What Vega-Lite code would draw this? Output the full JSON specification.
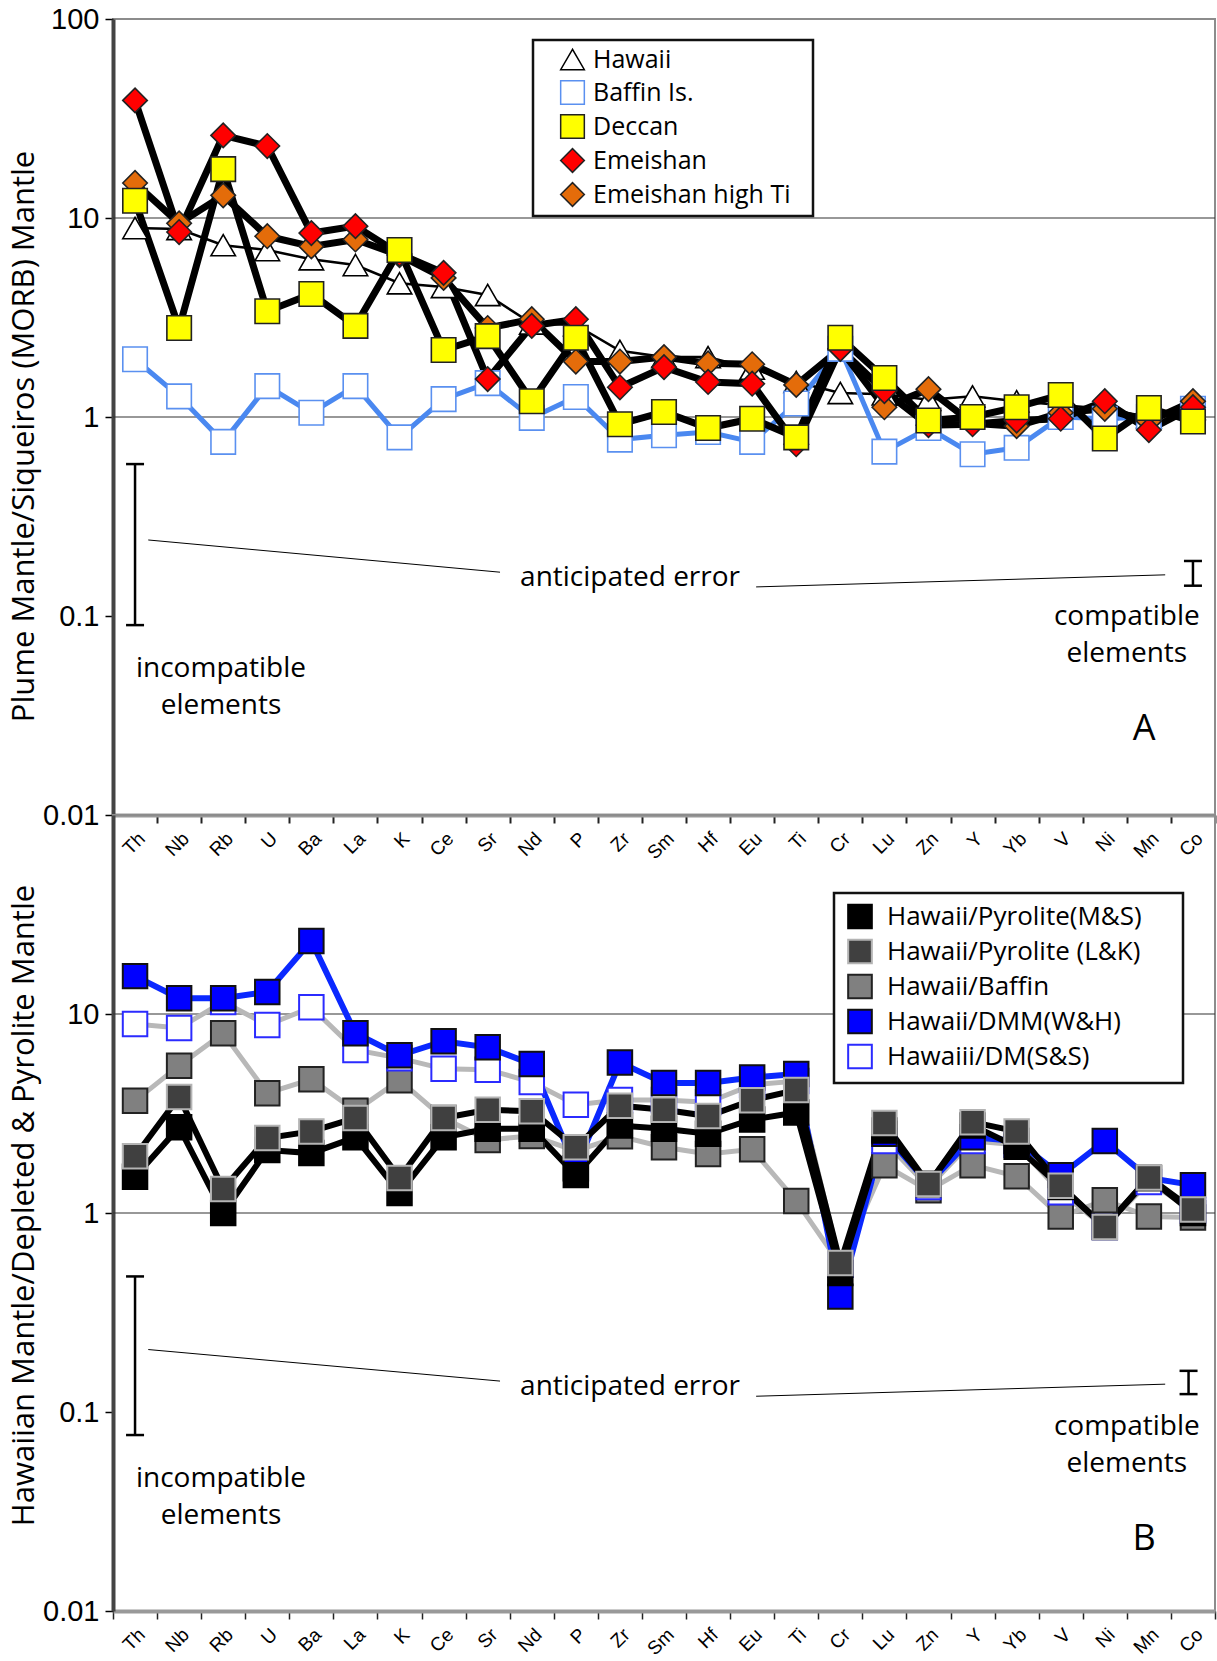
{
  "$schema": "https://vega.github.io/schema/vega-lite/v6.json",
  "background": "white",
  "padding": {"left": 7, "top": 4, "right": 0, "bottom": 0},
  "spacing": 0,
  "bounds": "flush",
  "resolve": {"scale": {"fill": "independent", "stroke": "independent", "shape": "independent"}, "legend": {"fill": "independent", "stroke": "independent", "shape": "independent"}},
  "config": {
    "view": {"stroke": "#8c8c8c", "strokeWidth": 2},
    "font": "Open Sans",
    "axis": {"grid": false, "labelColor": "black", "tickColor": "black"},
    "legend": {"strokeColor": "#111", "strokeWidth": 2.5, "fillColor": "white", "labelLimit": 500}
  },
  "datasets": {
    "A": [
      {"e":"Th","s":"Hawaii","v":8.9},{"e":"Nb","s":"Hawaii","v":8.8},{"e":"Rb","s":"Hawaii","v":7.3},{"e":"U","s":"Hawaii","v":6.9},{"e":"Ba","s":"Hawaii","v":6.2},{"e":"La","s":"Hawaii","v":5.8},{"e":"K","s":"Hawaii","v":4.7},{"e":"Ce","s":"Hawaii","v":4.5},{"e":"Sr","s":"Hawaii","v":4.1},{"e":"Nd","s":"Hawaii","v":2.95},{"e":"P","s":"Hawaii","v":2.9},{"e":"Zr","s":"Hawaii","v":2.15},{"e":"Sm","s":"Hawaii","v":2.0},{"e":"Hf","s":"Hawaii","v":2.0},{"e":"Eu","s":"Hawaii","v":1.75},{"e":"Ti","s":"Hawaii","v":1.5},{"e":"Cr","s":"Hawaii","v":1.32},{"e":"Lu","s":"Hawaii","v":1.3},{"e":"Zn","s":"Hawaii","v":1.22},{"e":"Y","s":"Hawaii","v":1.27},{"e":"Yb","s":"Hawaii","v":1.2},{"e":"V","s":"Hawaii","v":1.15},{"e":"Ni","s":"Hawaii","v":1.1},{"e":"Mn","s":"Hawaii","v":1.0},{"e":"Co","s":"Hawaii","v":1.1},
      {"e":"Th","s":"Baffin Is.","v":1.95},{"e":"Nb","s":"Baffin Is.","v":1.27},{"e":"Rb","s":"Baffin Is.","v":0.75},{"e":"U","s":"Baffin Is.","v":1.43},{"e":"Ba","s":"Baffin Is.","v":1.05},{"e":"La","s":"Baffin Is.","v":1.43},{"e":"K","s":"Baffin Is.","v":0.79},{"e":"Ce","s":"Baffin Is.","v":1.23},{"e":"Sr","s":"Baffin Is.","v":1.48},{"e":"Nd","s":"Baffin Is.","v":0.99},{"e":"P","s":"Baffin Is.","v":1.26},{"e":"Zr","s":"Baffin Is.","v":0.77},{"e":"Sm","s":"Baffin Is.","v":0.81},{"e":"Hf","s":"Baffin Is.","v":0.84},{"e":"Eu","s":"Baffin Is.","v":0.75},{"e":"Ti","s":"Baffin Is.","v":1.17},{"e":"Cr","s":"Baffin Is.","v":2.2},{"e":"Lu","s":"Baffin Is.","v":0.67},{"e":"Zn","s":"Baffin Is.","v":0.88},{"e":"Y","s":"Baffin Is.","v":0.65},{"e":"Yb","s":"Baffin Is.","v":0.7},{"e":"V","s":"Baffin Is.","v":1.0},{"e":"Ni","s":"Baffin Is.","v":0.98},{"e":"Mn","s":"Baffin Is.","v":1.0},{"e":"Co","s":"Baffin Is.","v":1.1},
      {"e":"Th","s":"Emeishan high Ti","v":15},{"e":"Nb","s":"Emeishan high Ti","v":9.4},{"e":"Rb","s":"Emeishan high Ti","v":13},{"e":"U","s":"Emeishan high Ti","v":8.1},{"e":"Ba","s":"Emeishan high Ti","v":7.2},{"e":"La","s":"Emeishan high Ti","v":7.8},{"e":"K","s":"Emeishan high Ti","v":6.5},{"e":"Ce","s":"Emeishan high Ti","v":5.0},{"e":"Sr","s":"Emeishan high Ti","v":2.8},{"e":"Nd","s":"Emeishan high Ti","v":3.1},{"e":"P","s":"Emeishan high Ti","v":1.9},{"e":"Zr","s":"Emeishan high Ti","v":1.9},{"e":"Sm","s":"Emeishan high Ti","v":2.0},{"e":"Hf","s":"Emeishan high Ti","v":1.86},{"e":"Eu","s":"Emeishan high Ti","v":1.84},{"e":"Ti","s":"Emeishan high Ti","v":1.45},{"e":"Cr","s":"Emeishan high Ti","v":2.2},{"e":"Lu","s":"Emeishan high Ti","v":1.12},{"e":"Zn","s":"Emeishan high Ti","v":1.38},{"e":"Y","s":"Emeishan high Ti","v":0.93},{"e":"Yb","s":"Emeishan high Ti","v":0.9},{"e":"V","s":"Emeishan high Ti","v":1.05},{"e":"Ni","s":"Emeishan high Ti","v":1.1},{"e":"Mn","s":"Emeishan high Ti","v":0.95},{"e":"Co","s":"Emeishan high Ti","v":1.2},
      {"e":"Th","s":"Emeishan","v":39},{"e":"Nb","s":"Emeishan","v":8.5},{"e":"Rb","s":"Emeishan","v":26},{"e":"U","s":"Emeishan","v":23},{"e":"Ba","s":"Emeishan","v":8.4},{"e":"La","s":"Emeishan","v":9.1},{"e":"K","s":"Emeishan","v":6.6},{"e":"Ce","s":"Emeishan","v":5.3},{"e":"Sr","s":"Emeishan","v":1.55},{"e":"Nd","s":"Emeishan","v":2.87},{"e":"P","s":"Emeishan","v":3.1},{"e":"Zr","s":"Emeishan","v":1.41},{"e":"Sm","s":"Emeishan","v":1.78},{"e":"Hf","s":"Emeishan","v":1.5},{"e":"Eu","s":"Emeishan","v":1.47},{"e":"Ti","s":"Emeishan","v":0.73},{"e":"Cr","s":"Emeishan","v":2.2},{"e":"Lu","s":"Emeishan","v":1.35},{"e":"Zn","s":"Emeishan","v":0.91},{"e":"Y","s":"Emeishan","v":0.92},{"e":"Yb","s":"Emeishan","v":0.96},{"e":"V","s":"Emeishan","v":0.98},{"e":"Ni","s":"Emeishan","v":1.2},{"e":"Mn","s":"Emeishan","v":0.86},{"e":"Co","s":"Emeishan","v":1.12},
      {"e":"Th","s":"Deccan","v":12.2},{"e":"Nb","s":"Deccan","v":2.8},{"e":"Rb","s":"Deccan","v":17.6},{"e":"U","s":"Deccan","v":3.4},{"e":"Ba","s":"Deccan","v":4.15},{"e":"La","s":"Deccan","v":2.87},{"e":"K","s":"Deccan","v":6.9},{"e":"Ce","s":"Deccan","v":2.17},{"e":"Sr","s":"Deccan","v":2.55},{"e":"Nd","s":"Deccan","v":1.2},{"e":"P","s":"Deccan","v":2.5},{"e":"Zr","s":"Deccan","v":0.92},{"e":"Sm","s":"Deccan","v":1.06},{"e":"Hf","s":"Deccan","v":0.88},{"e":"Eu","s":"Deccan","v":0.98},{"e":"Ti","s":"Deccan","v":0.79},{"e":"Cr","s":"Deccan","v":2.5},{"e":"Lu","s":"Deccan","v":1.57},{"e":"Zn","s":"Deccan","v":0.96},{"e":"Y","s":"Deccan","v":1.0},{"e":"Yb","s":"Deccan","v":1.12},{"e":"V","s":"Deccan","v":1.29},{"e":"Ni","s":"Deccan","v":0.78},{"e":"Mn","s":"Deccan","v":1.11},{"e":"Co","s":"Deccan","v":0.95}
    ],
    "B": [
      {"e":"Th","s":"Hawaii/Baffin","v":3.66},{"e":"Nb","s":"Hawaii/Baffin","v":5.5},{"e":"Rb","s":"Hawaii/Baffin","v":8.0},{"e":"U","s":"Hawaii/Baffin","v":4.0},{"e":"Ba","s":"Hawaii/Baffin","v":4.7},{"e":"La","s":"Hawaii/Baffin","v":3.26},{"e":"K","s":"Hawaii/Baffin","v":4.65},{"e":"Ce","s":"Hawaii/Baffin","v":3.0},{"e":"Sr","s":"Hawaii/Baffin","v":2.33},{"e":"Nd","s":"Hawaii/Baffin","v":2.44},{"e":"P","s":"Hawaii/Baffin","v":2.05},{"e":"Zr","s":"Hawaii/Baffin","v":2.43},{"e":"Sm","s":"Hawaii/Baffin","v":2.14},{"e":"Hf","s":"Hawaii/Baffin","v":1.98},{"e":"Eu","s":"Hawaii/Baffin","v":2.09},{"e":"Ti","s":"Hawaii/Baffin","v":1.15},{"e":"Cr","s":"Hawaii/Baffin","v":0.55},{"e":"Lu","s":"Hawaii/Baffin","v":1.74},{"e":"Zn","s":"Hawaii/Baffin","v":1.3},{"e":"Y","s":"Hawaii/Baffin","v":1.74},{"e":"Yb","s":"Hawaii/Baffin","v":1.53},{"e":"V","s":"Hawaii/Baffin","v":0.96},{"e":"Ni","s":"Hawaii/Baffin","v":1.16},{"e":"Mn","s":"Hawaii/Baffin","v":0.96},{"e":"Co","s":"Hawaii/Baffin","v":0.95},
      {"e":"Th","s":"Hawaiii/DM(S&S)","v":8.9},{"e":"Nb","s":"Hawaiii/DM(S&S)","v":8.5},{"e":"Rb","s":"Hawaiii/DM(S&S)","v":11.5},{"e":"U","s":"Hawaiii/DM(S&S)","v":8.8},{"e":"Ba","s":"Hawaiii/DM(S&S)","v":10.8},{"e":"La","s":"Hawaiii/DM(S&S)","v":6.6},{"e":"K","s":"Hawaiii/DM(S&S)","v":6.0},{"e":"Ce","s":"Hawaiii/DM(S&S)","v":5.3},{"e":"Sr","s":"Hawaiii/DM(S&S)","v":5.25},{"e":"Nd","s":"Hawaiii/DM(S&S)","v":4.55},{"e":"P","s":"Hawaiii/DM(S&S)","v":3.5},{"e":"Zr","s":"Hawaiii/DM(S&S)","v":3.7},{"e":"Sm","s":"Hawaiii/DM(S&S)","v":3.7},{"e":"Hf","s":"Hawaiii/DM(S&S)","v":3.6},{"e":"Eu","s":"Hawaiii/DM(S&S)","v":4.4},{"e":"Ti","s":"Hawaiii/DM(S&S)","v":4.6},{"e":"Cr","s":"Hawaiii/DM(S&S)","v":0.55},{"e":"Lu","s":"Hawaiii/DM(S&S)","v":2.3},{"e":"Zn","s":"Hawaiii/DM(S&S)","v":1.35},{"e":"Y","s":"Hawaiii/DM(S&S)","v":2.3},{"e":"Yb","s":"Hawaiii/DM(S&S)","v":2.2},{"e":"V","s":"Hawaiii/DM(S&S)","v":1.27},{"e":"Ni","s":"Hawaiii/DM(S&S)","v":0.85},{"e":"Mn","s":"Hawaiii/DM(S&S)","v":1.43},{"e":"Co","s":"Hawaiii/DM(S&S)","v":1.03},
      {"e":"Th","s":"Hawaii/DMM(W&H)","v":15.5},{"e":"Nb","s":"Hawaii/DMM(W&H)","v":12},{"e":"Rb","s":"Hawaii/DMM(W&H)","v":12},{"e":"U","s":"Hawaii/DMM(W&H)","v":12.9},{"e":"Ba","s":"Hawaii/DMM(W&H)","v":23.3},{"e":"La","s":"Hawaii/DMM(W&H)","v":8.0},{"e":"K","s":"Hawaii/DMM(W&H)","v":6.2},{"e":"Ce","s":"Hawaii/DMM(W&H)","v":7.3},{"e":"Sr","s":"Hawaii/DMM(W&H)","v":6.8},{"e":"Nd","s":"Hawaii/DMM(W&H)","v":5.6},{"e":"P","s":"Hawaii/DMM(W&H)","v":1.68},{"e":"Zr","s":"Hawaii/DMM(W&H)","v":5.7},{"e":"Sm","s":"Hawaii/DMM(W&H)","v":4.5},{"e":"Hf","s":"Hawaii/DMM(W&H)","v":4.5},{"e":"Eu","s":"Hawaii/DMM(W&H)","v":4.8},{"e":"Ti","s":"Hawaii/DMM(W&H)","v":5.0},{"e":"Cr","s":"Hawaii/DMM(W&H)","v":0.38},{"e":"Lu","s":"Hawaii/DMM(W&H)","v":2.5},{"e":"Zn","s":"Hawaii/DMM(W&H)","v":1.4},{"e":"Y","s":"Hawaii/DMM(W&H)","v":2.4},{"e":"Yb","s":"Hawaii/DMM(W&H)","v":2.3},{"e":"V","s":"Hawaii/DMM(W&H)","v":1.55},{"e":"Ni","s":"Hawaii/DMM(W&H)","v":2.3},{"e":"Mn","s":"Hawaii/DMM(W&H)","v":1.5},{"e":"Co","s":"Hawaii/DMM(W&H)","v":1.38},
      {"e":"Th","s":"Hawaii/Pyrolite(M&S)","v":1.52},{"e":"Nb","s":"Hawaii/Pyrolite(M&S)","v":2.7},{"e":"Rb","s":"Hawaii/Pyrolite(M&S)","v":1.0},{"e":"U","s":"Hawaii/Pyrolite(M&S)","v":2.07},{"e":"Ba","s":"Hawaii/Pyrolite(M&S)","v":2.0},{"e":"La","s":"Hawaii/Pyrolite(M&S)","v":2.4},{"e":"K","s":"Hawaii/Pyrolite(M&S)","v":1.26},{"e":"Ce","s":"Hawaii/Pyrolite(M&S)","v":2.4},{"e":"Sr","s":"Hawaii/Pyrolite(M&S)","v":2.65},{"e":"Nd","s":"Hawaii/Pyrolite(M&S)","v":2.65},{"e":"P","s":"Hawaii/Pyrolite(M&S)","v":1.55},{"e":"Zr","s":"Hawaii/Pyrolite(M&S)","v":2.75},{"e":"Sm","s":"Hawaii/Pyrolite(M&S)","v":2.65},{"e":"Hf","s":"Hawaii/Pyrolite(M&S)","v":2.5},{"e":"Eu","s":"Hawaii/Pyrolite(M&S)","v":2.95},{"e":"Ti","s":"Hawaii/Pyrolite(M&S)","v":3.2},{"e":"Cr","s":"Hawaii/Pyrolite(M&S)","v":0.5},{"e":"Lu","s":"Hawaii/Pyrolite(M&S)","v":2.6},{"e":"Zn","s":"Hawaii/Pyrolite(M&S)","v":1.4},{"e":"Y","s":"Hawaii/Pyrolite(M&S)","v":2.75},{"e":"Yb","s":"Hawaii/Pyrolite(M&S)","v":2.15},{"e":"V","s":"Hawaii/Pyrolite(M&S)","v":1.35},{"e":"Ni","s":"Hawaii/Pyrolite(M&S)","v":0.85},{"e":"Mn","s":"Hawaii/Pyrolite(M&S)","v":1.5},{"e":"Co","s":"Hawaii/Pyrolite(M&S)","v":1.0},
      {"e":"Th","s":"Hawaii/Pyrolite (L&K)","v":1.93},{"e":"Nb","s":"Hawaii/Pyrolite (L&K)","v":3.83},{"e":"Rb","s":"Hawaii/Pyrolite (L&K)","v":1.32},{"e":"U","s":"Hawaii/Pyrolite (L&K)","v":2.38},{"e":"Ba","s":"Hawaii/Pyrolite (L&K)","v":2.57},{"e":"La","s":"Hawaii/Pyrolite (L&K)","v":3.0},{"e":"K","s":"Hawaii/Pyrolite (L&K)","v":1.5},{"e":"Ce","s":"Hawaii/Pyrolite (L&K)","v":3.0},{"e":"Sr","s":"Hawaii/Pyrolite (L&K)","v":3.3},{"e":"Nd","s":"Hawaii/Pyrolite (L&K)","v":3.25},{"e":"P","s":"Hawaii/Pyrolite (L&K)","v":2.14},{"e":"Zr","s":"Hawaii/Pyrolite (L&K)","v":3.46},{"e":"Sm","s":"Hawaii/Pyrolite (L&K)","v":3.3},{"e":"Hf","s":"Hawaii/Pyrolite (L&K)","v":3.07},{"e":"Eu","s":"Hawaii/Pyrolite (L&K)","v":3.69},{"e":"Ti","s":"Hawaii/Pyrolite (L&K)","v":4.15},{"e":"Cr","s":"Hawaii/Pyrolite (L&K)","v":0.56},{"e":"Lu","s":"Hawaii/Pyrolite (L&K)","v":2.83},{"e":"Zn","s":"Hawaii/Pyrolite (L&K)","v":1.4},{"e":"Y","s":"Hawaii/Pyrolite (L&K)","v":2.86},{"e":"Yb","s":"Hawaii/Pyrolite (L&K)","v":2.57},{"e":"V","s":"Hawaii/Pyrolite (L&K)","v":1.37},{"e":"Ni","s":"Hawaii/Pyrolite (L&K)","v":0.85},{"e":"Mn","s":"Hawaii/Pyrolite (L&K)","v":1.51},{"e":"Co","s":"Hawaii/Pyrolite (L&K)","v":1.04}
    ],
    "grid": [{"g": 1}, {"g": 10}],
    "errA": [{"x": 0, "lo": 0.09, "hi": 0.58}, {"x": 24, "lo": 0.142, "hi": 0.189}],
    "linkA": [{"x": 0.3, "y": 0.241, "x2": 8.28, "y2": 0.166}, {"x": 14.09, "y": 0.14, "x2": 23.37, "y2": 0.161}],
    "textA": [{"x": 11.23, "y": 0.155, "t": "anticipated error"}, {"x": 1.95, "y": 0.0542, "t": "incompatible\nelements"}, {"x": 22.5, "y": 0.0994, "t": "compatible\nelements"}],
    "letterA": [{"x": 22.89, "y": 0.027, "t": "A"}],
    "errB": [{"x": 0, "lo": 0.0766, "hi": 0.48}, {"x": 23.9, "lo": 0.123, "hi": 0.161}],
    "linkB": [{"x": 0.3, "y": 0.206, "x2": 8.28, "y2": 0.143}, {"x": 14.09, "y": 0.12, "x2": 23.37, "y2": 0.138}],
    "textB": [{"x": 11.23, "y": 0.133, "t": "anticipated error"}, {"x": 1.95, "y": 0.0462, "t": "incompatible\nelements"}, {"x": 22.5, "y": 0.0843, "t": "compatible\nelements"}],
    "letterB": [{"x": 22.89, "y": 0.023, "t": "B"}]
  },
  "vconcat": [
    {
      "width": 1102,
      "height": 796,
      "resolve": {"scale": {"x": "independent"}},
      "layer": [
        {
          "data": {"name": "grid"},
          "mark": {"type": "rule", "color": "#333", "strokeWidth": 1.2},
          "encoding": {
            "y": {"field": "g", "type": "quantitative", "scale": {"type": "log", "domain": [0.01, 100], "nice": false},
              "axis": {"values": [0.01, 0.1, 1, 10, 100], "format": "~g", "title": "Plume Mantle/Siqueiros (MORB) Mantle", "titleFontSize": 31, "titleFont": "Open Sans", "titleFontWeight": "normal", "titleColor": "black", "titleX": -80, "titleY": 417, "titleBaseline": "alphabetic", "labelFont": "Liberation Sans", "labelFontSize": 29, "labelPadding": 6, "tickSize": 8, "tickWidth": 1.5, "domainColor": "#444", "domainWidth": 4}}
          }
        },
        {
          "data": {"name": "A"},
          "transform": [{"filter": "datum.s === 'Hawaii'"}],
          "mark": {"type": "line", "color": "black", "strokeWidth": 2.5},
          "encoding": {
            "x": {"field": "e", "type": "nominal", "scale": {"type": "band", "domain": ["Th","Nb","Rb","U","Ba","La","K","Ce","Sr","Nd","P","Zr","Sm","Hf","Eu","Ti","Cr","Lu","Zn","Y","Yb","V","Ni","Mn","Co"], "paddingInner": 0, "paddingOuter": 0}, "axis": null},
            "y": {"field": "v", "type": "quantitative", "scale": {"type": "log", "domain": [0.01, 100], "nice": false}}
          }
        },
        {
          "data": {"name": "A"},
          "transform": [{"filter": "datum.s === 'Baffin Is.'"}],
          "mark": {"type": "line", "color": "#4a88f0", "strokeWidth": 5},
          "encoding": {
            "x": {"field": "e", "type": "nominal", "scale": {"type": "band", "domain": ["Th","Nb","Rb","U","Ba","La","K","Ce","Sr","Nd","P","Zr","Sm","Hf","Eu","Ti","Cr","Lu","Zn","Y","Yb","V","Ni","Mn","Co"], "paddingInner": 0, "paddingOuter": 0}, "axis": null},
            "y": {"field": "v", "type": "quantitative", "scale": {"type": "log", "domain": [0.01, 100], "nice": false}}
          }
        },
        {
          "data": {"name": "A"},
          "transform": [{"filter": "datum.s !== 'Hawaii' && datum.s !== 'Baffin Is.'"}],
          "mark": {"type": "line", "color": "black", "strokeWidth": 7},
          "encoding": {
            "x": {"field": "e", "type": "nominal", "scale": {"type": "band", "domain": ["Th","Nb","Rb","U","Ba","La","K","Ce","Sr","Nd","P","Zr","Sm","Hf","Eu","Ti","Cr","Lu","Zn","Y","Yb","V","Ni","Mn","Co"], "paddingInner": 0, "paddingOuter": 0}, "axis": null},
            "y": {"field": "v", "type": "quantitative", "scale": {"type": "log", "domain": [0.01, 100], "nice": false}},
            "detail": {"field": "s", "type": "nominal"}
          }
        },
        {
          "data": {"name": "A"},
          "mark": {"type": "point", "filled": true, "size": 600, "strokeWidth": 1.6, "opacity": 1},
          "encoding": {
            "x": {"field": "e", "type": "nominal", "scale": {"type": "band", "domain": ["Th","Nb","Rb","U","Ba","La","K","Ce","Sr","Nd","P","Zr","Sm","Hf","Eu","Ti","Cr","Lu","Zn","Y","Yb","V","Ni","Mn","Co"], "paddingInner": 0, "paddingOuter": 0},
              "axis": {"title": null, "labelAngle": -45, "labelFont": "Liberation Sans", "labelFontSize": 19, "tickBand": "extent", "tickSize": 8, "tickColor": "#222", "tickWidth": 2, "domainColor": "#999", "domainWidth": 4, "labelPadding": 6}},
            "y": {"field": "v", "type": "quantitative", "scale": {"type": "log", "domain": [0.01, 100], "nice": false}},
            "shape": {"field": "s", "type": "nominal", "scale": {"domain": ["Hawaii", "Baffin Is.", "Deccan", "Emeishan", "Emeishan high Ti"], "range": ["triangle-up", "square", "square", "diamond", "diamond"]},
              "legend": {"orient": "none", "legendX": 420, "legendY": 21, "title": "M", "titleOrient": "right", "titleColor": "white", "titleFontSize": 16, "titlePadding": 0, "padding": 6.5, "symbolSize": 560, "labelFontSize": 25, "labelFont": "Open Sans", "labelColor": "black", "rowPadding": 4, "symbolOffset": 20, "labelOffset": 7.5, "symbolStrokeWidth": 1.5}},
            "fill": {"field": "s", "type": "nominal", "scale": {"domain": ["Hawaii", "Baffin Is.", "Deccan", "Emeishan", "Emeishan high Ti"], "range": ["white", "white", "#ffff00", "#ff0000", "#e46c0a"]},
              "legend": {"orient": "none", "legendX": 420, "legendY": 21, "title": "M", "titleOrient": "right", "titleColor": "white", "titleFontSize": 16, "titlePadding": 0, "padding": 6.5, "symbolSize": 560, "labelFontSize": 25, "labelFont": "Open Sans", "labelColor": "black", "rowPadding": 4, "symbolOffset": 20, "labelOffset": 7.5, "symbolStrokeWidth": 1.5}},
            "stroke": {"field": "s", "type": "nominal", "scale": {"domain": ["Hawaii", "Baffin Is.", "Deccan", "Emeishan", "Emeishan high Ti"], "range": ["black", "#5a90f0", "#222", "#222", "#222"]},
              "legend": {"orient": "none", "legendX": 420, "legendY": 21, "title": "M", "titleOrient": "right", "titleColor": "white", "titleFontSize": 16, "titlePadding": 0, "padding": 6.5, "symbolSize": 560, "labelFontSize": 25, "labelFont": "Open Sans", "labelColor": "black", "rowPadding": 4, "symbolOffset": 20, "labelOffset": 7.5, "symbolStrokeWidth": 1.5}}
          }
        },
        {
          "data": {"name": "linkA"},
          "mark": {"type": "rule", "color": "black", "strokeWidth": 1},
          "encoding": {
            "x": {"field": "x", "type": "quantitative", "scale": {"domain": [-0.5, 24.5], "nice": false, "zero": false}, "axis": null},
            "x2": {"field": "x2"},
            "y": {"field": "y", "type": "quantitative", "scale": {"type": "log", "domain": [0.01, 100], "nice": false}},
            "y2": {"field": "y2"}
          }
        },
        {
          "data": {"name": "errA"},
          "mark": {"type": "rule", "color": "black", "strokeWidth": 2.5},
          "encoding": {
            "x": {"field": "x", "type": "quantitative", "scale": {"domain": [-0.5, 24.5], "nice": false, "zero": false}, "axis": null},
            "y": {"field": "lo", "type": "quantitative", "scale": {"type": "log", "domain": [0.01, 100], "nice": false}},
            "y2": {"field": "hi"}
          }
        },
        {
          "data": {"name": "errA"},
          "mark": {"type": "point", "shape": "stroke", "size": 324, "color": "black", "strokeWidth": 2.5, "opacity": 1},
          "encoding": {
            "x": {"field": "x", "type": "quantitative", "scale": {"domain": [-0.5, 24.5], "nice": false, "zero": false}, "axis": null},
            "y": {"field": "lo", "type": "quantitative", "scale": {"type": "log", "domain": [0.01, 100], "nice": false}}
          }
        },
        {
          "data": {"name": "errA"},
          "mark": {"type": "point", "shape": "stroke", "size": 324, "color": "black", "strokeWidth": 2.5, "opacity": 1},
          "encoding": {
            "x": {"field": "x", "type": "quantitative", "scale": {"domain": [-0.5, 24.5], "nice": false, "zero": false}, "axis": null},
            "y": {"field": "hi", "type": "quantitative", "scale": {"type": "log", "domain": [0.01, 100], "nice": false}}
          }
        },
        {
          "data": {"name": "textA"},
          "mark": {"type": "text", "fontSize": 28, "font": "Open Sans", "color": "black", "align": "center", "baseline": "middle", "lineBreak": "\n", "lineHeight": 37},
          "encoding": {
            "x": {"field": "x", "type": "quantitative", "scale": {"domain": [-0.5, 24.5], "nice": false, "zero": false}, "axis": null},
            "y": {"field": "y", "type": "quantitative", "scale": {"type": "log", "domain": [0.01, 100], "nice": false}},
            "text": {"field": "t"}
          }
        },
        {
          "data": {"name": "letterA"},
          "mark": {"type": "text", "fontSize": 36, "font": "Open Sans", "color": "black", "align": "center", "baseline": "middle"},
          "encoding": {
            "x": {"field": "x", "type": "quantitative", "scale": {"domain": [-0.5, 24.5], "nice": false, "zero": false}, "axis": null},
            "y": {"field": "y", "type": "quantitative", "scale": {"type": "log", "domain": [0.01, 100], "nice": false}},
            "text": {"field": "t"}
          }
        }
      ]
    },
    {
      "width": 1102,
      "height": 796,
      "resolve": {"scale": {"x": "independent"}},
      "layer": [
        {
          "data": {"name": "grid"},
          "mark": {"type": "rule", "color": "#333", "strokeWidth": 1.2},
          "encoding": {
            "y": {"field": "g", "type": "quantitative", "scale": {"type": "log", "domain": [0.01, 100], "nice": false},
              "axis": {"values": [0.01, 0.1, 1, 10], "format": "~g", "title": "Hawaiian Mantle/Depleted & Pyrolite Mantle", "titleFontSize": 31, "titleFont": "Open Sans", "titleFontWeight": "normal", "titleColor": "black", "titleX": -80, "titleY": 390, "titleBaseline": "alphabetic", "labelFont": "Liberation Sans", "labelFontSize": 29, "labelPadding": 6, "tickSize": 8, "tickWidth": 1.5, "domainColor": "#444", "domainWidth": 4}}
          }
        },
        {
          "data": {"name": "B"},
          "transform": [{"filter": "datum.s === 'Hawaii/Baffin' || datum.s === 'Hawaiii/DM(S&S)'"}],
          "mark": {"type": "line", "color": "#b8b8b8", "strokeWidth": 5},
          "encoding": {
            "x": {"field": "e", "type": "nominal", "scale": {"type": "band", "domain": ["Th","Nb","Rb","U","Ba","La","K","Ce","Sr","Nd","P","Zr","Sm","Hf","Eu","Ti","Cr","Lu","Zn","Y","Yb","V","Ni","Mn","Co"], "paddingInner": 0, "paddingOuter": 0}, "axis": null},
            "y": {"field": "v", "type": "quantitative", "scale": {"type": "log", "domain": [0.01, 100], "nice": false}},
            "detail": {"field": "s", "type": "nominal"}
          }
        },
        {
          "data": {"name": "B"},
          "transform": [{"filter": "datum.s === 'Hawaii/DMM(W&H)'"}],
          "mark": {"type": "line", "color": "#0a28ff", "strokeWidth": 6},
          "encoding": {
            "x": {"field": "e", "type": "nominal", "scale": {"type": "band", "domain": ["Th","Nb","Rb","U","Ba","La","K","Ce","Sr","Nd","P","Zr","Sm","Hf","Eu","Ti","Cr","Lu","Zn","Y","Yb","V","Ni","Mn","Co"], "paddingInner": 0, "paddingOuter": 0}, "axis": null},
            "y": {"field": "v", "type": "quantitative", "scale": {"type": "log", "domain": [0.01, 100], "nice": false}}
          }
        },
        {
          "data": {"name": "B"},
          "transform": [{"filter": "datum.s === 'Hawaii/Pyrolite(M&S)' || datum.s === 'Hawaii/Pyrolite (L&K)'"}],
          "mark": {"type": "line", "color": "black", "strokeWidth": 6},
          "encoding": {
            "x": {"field": "e", "type": "nominal", "scale": {"type": "band", "domain": ["Th","Nb","Rb","U","Ba","La","K","Ce","Sr","Nd","P","Zr","Sm","Hf","Eu","Ti","Cr","Lu","Zn","Y","Yb","V","Ni","Mn","Co"], "paddingInner": 0, "paddingOuter": 0}, "axis": null},
            "y": {"field": "v", "type": "quantitative", "scale": {"type": "log", "domain": [0.01, 100], "nice": false}},
            "detail": {"field": "s", "type": "nominal"}
          }
        },
        {
          "data": {"name": "B"},
          "mark": {"type": "point", "filled": true, "shape": "square", "size": 600, "strokeWidth": 2, "opacity": 1},
          "encoding": {
            "x": {"field": "e", "type": "nominal", "scale": {"type": "band", "domain": ["Th","Nb","Rb","U","Ba","La","K","Ce","Sr","Nd","P","Zr","Sm","Hf","Eu","Ti","Cr","Lu","Zn","Y","Yb","V","Ni","Mn","Co"], "paddingInner": 0, "paddingOuter": 0},
              "axis": {"title": null, "labelAngle": -45, "labelFont": "Liberation Sans", "labelFontSize": 19, "tickBand": "extent", "tickSize": 8, "tickColor": "#222", "tickWidth": 1.5, "domainColor": "#999", "domainWidth": 4, "labelPadding": 6}},
            "y": {"field": "v", "type": "quantitative", "scale": {"type": "log", "domain": [0.01, 100], "nice": false}},
            "fill": {"field": "s", "type": "nominal", "scale": {"domain": ["Hawaii/Pyrolite(M&S)", "Hawaii/Pyrolite (L&K)", "Hawaii/Baffin", "Hawaii/DMM(W&H)", "Hawaiii/DM(S&S)"], "range": ["#000000", "#404040", "#808080", "#0000ff", "white"]},
              "legend": {"orient": "none", "legendX": 721, "legendY": 78, "title": "MM", "titleOrient": "right", "titleColor": "white", "titleFontSize": 16, "titlePadding": 0, "padding": 10.5, "symbolType": "square", "symbolSize": 560, "labelFontSize": 26, "labelFont": "Open Sans", "labelColor": "black", "rowPadding": 3, "symbolOffset": 2.5, "labelOffset": 14, "symbolStrokeWidth": 2}},
            "stroke": {"field": "s", "type": "nominal", "scale": {"domain": ["Hawaii/Pyrolite(M&S)", "Hawaii/Pyrolite (L&K)", "Hawaii/Baffin", "Hawaii/DMM(W&H)", "Hawaiii/DM(S&S)"], "range": ["#000000", "#b4b4b4", "#222222", "#111111", "#2b2bff"]},
              "legend": {"orient": "none", "legendX": 721, "legendY": 78, "title": "MM", "titleOrient": "right", "titleColor": "white", "titleFontSize": 16, "titlePadding": 0, "padding": 10.5, "symbolType": "square", "symbolSize": 560, "labelFontSize": 26, "labelFont": "Open Sans", "labelColor": "black", "rowPadding": 3, "symbolOffset": 2.5, "labelOffset": 14, "symbolStrokeWidth": 2}}
          }
        },
        {
          "data": {"name": "linkB"},
          "mark": {"type": "rule", "color": "black", "strokeWidth": 1},
          "encoding": {
            "x": {"field": "x", "type": "quantitative", "scale": {"domain": [-0.5, 24.5], "nice": false, "zero": false}, "axis": null},
            "x2": {"field": "x2"},
            "y": {"field": "y", "type": "quantitative", "scale": {"type": "log", "domain": [0.01, 100], "nice": false}},
            "y2": {"field": "y2"}
          }
        },
        {
          "data": {"name": "errB"},
          "mark": {"type": "rule", "color": "black", "strokeWidth": 2.5},
          "encoding": {
            "x": {"field": "x", "type": "quantitative", "scale": {"domain": [-0.5, 24.5], "nice": false, "zero": false}, "axis": null},
            "y": {"field": "lo", "type": "quantitative", "scale": {"type": "log", "domain": [0.01, 100], "nice": false}},
            "y2": {"field": "hi"}
          }
        },
        {
          "data": {"name": "errB"},
          "mark": {"type": "point", "shape": "stroke", "size": 324, "color": "black", "strokeWidth": 2.5, "opacity": 1},
          "encoding": {
            "x": {"field": "x", "type": "quantitative", "scale": {"domain": [-0.5, 24.5], "nice": false, "zero": false}, "axis": null},
            "y": {"field": "lo", "type": "quantitative", "scale": {"type": "log", "domain": [0.01, 100], "nice": false}}
          }
        },
        {
          "data": {"name": "errB"},
          "mark": {"type": "point", "shape": "stroke", "size": 324, "color": "black", "strokeWidth": 2.5, "opacity": 1},
          "encoding": {
            "x": {"field": "x", "type": "quantitative", "scale": {"domain": [-0.5, 24.5], "nice": false, "zero": false}, "axis": null},
            "y": {"field": "hi", "type": "quantitative", "scale": {"type": "log", "domain": [0.01, 100], "nice": false}}
          }
        },
        {
          "data": {"name": "textB"},
          "mark": {"type": "text", "fontSize": 28, "font": "Open Sans", "color": "black", "align": "center", "baseline": "middle", "lineBreak": "\n", "lineHeight": 37},
          "encoding": {
            "x": {"field": "x", "type": "quantitative", "scale": {"domain": [-0.5, 24.5], "nice": false, "zero": false}, "axis": null},
            "y": {"field": "y", "type": "quantitative", "scale": {"type": "log", "domain": [0.01, 100], "nice": false}},
            "text": {"field": "t"}
          }
        },
        {
          "data": {"name": "letterB"},
          "mark": {"type": "text", "fontSize": 36, "font": "Open Sans", "color": "black", "align": "center", "baseline": "middle"},
          "encoding": {
            "x": {"field": "x", "type": "quantitative", "scale": {"domain": [-0.5, 24.5], "nice": false, "zero": false}, "axis": null},
            "y": {"field": "y", "type": "quantitative", "scale": {"type": "log", "domain": [0.01, 100], "nice": false}},
            "text": {"field": "t"}
          }
        }
      ]
    }
  ]
}
